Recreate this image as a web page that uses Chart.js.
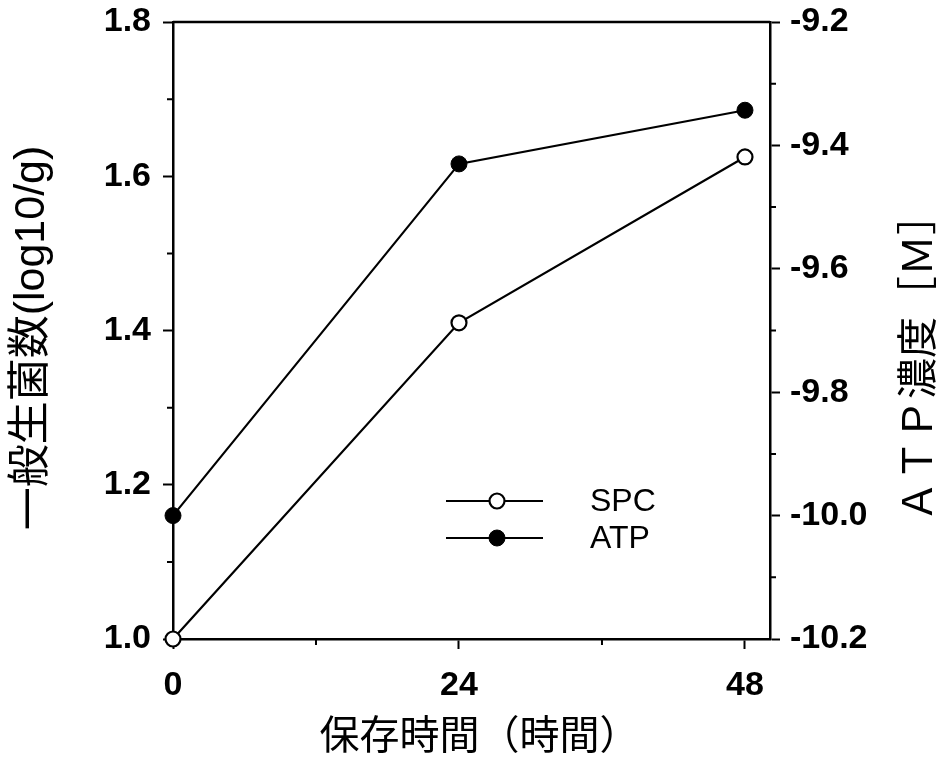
<!DOCTYPE html>
<html>
<head>
<meta charset="utf-8">
<script src="https://cdn.jsdelivr.net/npm/chart.js@4/dist/chart.umd.min.js"></script>
<style>
  html, body { margin: 0; padding: 0; background: #ffffff; }
  #wrap { width: 941px; height: 758px; }
</style>
</head>
<body>
<div id="wrap"><canvas id="c" width="941" height="758"></canvas></div>
<script>
// ---- data ----
const xHours = [0, 24, 48];
const spcValues = [1.0, 1.41, 1.625];          // 一般生菌数 (log10/g), left axis
const atpValues = [-10.0, -9.43, -9.343];      // ATP濃度 [M], right axis
const seriesLabels = ['SPC', 'ATP'];
const xTickValues = [0, 24, 48];
const xMinorTicks = [12, 36];
const leftTickValues = [1.0, 1.2, 1.4, 1.6, 1.8];
const leftMinorTicks = [1.1, 1.3, 1.5, 1.7];
const rightTickValues = [-10.2, -10.0, -9.8, -9.6, -9.4, -9.2];
const rightMinorTicks = [-10.1, -9.9, -9.7, -9.5, -9.3];
const xTitle = '保存時間（時間）';
const leftTitle = '一般生菌数(log10/g)';
const rightTitle = 'ＡＴＰ濃度［Ｍ］';

const LATIN = '"Liberation Sans", Arial, Helvetica, sans-serif';
const CJK = '"Liberation Sans", "Noto Sans CJK JP", sans-serif';
const tickFont = { family: LATIN, size: 34, weight: 'bold' };

const extraPlugin = {
  id: 'extras',
  afterDraw(chart) {
    const ctx = chart.ctx;
    const a = chart.chartArea;
    const sx = chart.scales.x, sl = chart.scales.y, sr = chart.scales.y2;
    ctx.save();
    ctx.strokeStyle = '#000';
    // top frame line
    ctx.lineWidth = 2.5;
    ctx.beginPath();
    ctx.moveTo(a.left, a.top);
    ctx.lineTo(a.right, a.top);
    ctx.stroke();
    // minor ticks
    ctx.lineWidth = 2;
    const minor = 6;
    ctx.beginPath();
    xMinorTicks.forEach(v => { const px = sx.getPixelForValue(v); ctx.moveTo(px, a.bottom); ctx.lineTo(px, a.bottom + minor); });
    leftMinorTicks.forEach(v => { const py = sl.getPixelForValue(v); ctx.moveTo(a.left, py); ctx.lineTo(a.left - minor, py); });
    rightMinorTicks.forEach(v => { const py = sr.getPixelForValue(v); ctx.moveTo(a.right, py); ctx.lineTo(a.right + minor, py); });
    ctx.stroke();

    // legend (inside plot)
    chart.data.datasets.forEach((ds, i) => {
      const y = 501 + i * 37;
      ctx.lineWidth = ds.borderWidth;
      ctx.strokeStyle = ds.borderColor;
      ctx.beginPath();
      ctx.moveTo(446, y); ctx.lineTo(543, y);
      ctx.stroke();
      ctx.beginPath();
      ctx.arc(497, y, ds.pointRadius, 0, Math.PI * 2);
      ctx.fillStyle = ds.pointBackgroundColor;
      ctx.fill();
      ctx.lineWidth = ds.pointBorderWidth;
      ctx.strokeStyle = ds.pointBorderColor;
      ctx.stroke();
      ctx.fillStyle = '#000';
      ctx.font = '32px ' + LATIN;
      ctx.textAlign = 'left';
      ctx.textBaseline = 'middle';
      ctx.fillText(ds.label, 590, y + 1);
    });

    // axis titles
    ctx.fillStyle = '#000';
    ctx.textAlign = 'center';
    ctx.textBaseline = 'middle';
    ctx.font = '40px ' + CJK;
    ctx.fillText(xTitle, (a.left + a.right) / 2 + 8, 738);

    ctx.save();
    ctx.translate(32, 338);
    ctx.rotate(-Math.PI / 2);
    ctx.font = '43px ' + CJK;
    ctx.fillText(leftTitle, 0, 0);
    ctx.restore();

    ctx.save();
    ctx.translate(916, 358);
    ctx.rotate(-Math.PI / 2);
    ctx.font = '41px "Noto Sans CJK JP", sans-serif';
    ctx.fillText(rightTitle, 0, 0);
    ctx.restore();

    ctx.restore();
  }
};

const axisCommon = {
  grid: { drawOnChartArea: false, tickLength: 10, tickWidth: 2, tickColor: '#000' },
  border: { color: '#000', width: 2.5 },
};

new Chart(document.getElementById('c'), {
  type: 'line',
  data: {
    datasets: [
      {
        label: seriesLabels[0],
        data: xHours.map((x, i) => ({ x: x, y: spcValues[i] })),
        yAxisID: 'y',
        borderColor: '#000', borderWidth: 2.2,
        pointRadius: 7.5, pointHoverRadius: 7.5,
        pointBackgroundColor: '#fff', pointBorderColor: '#000', pointBorderWidth: 2.2,
        tension: 0, clip: false,
      },
      {
        label: seriesLabels[1],
        data: xHours.map((x, i) => ({ x: x, y: atpValues[i] })),
        yAxisID: 'y2',
        borderColor: '#000', borderWidth: 2.2,
        pointRadius: 8, pointHoverRadius: 8,
        pointBackgroundColor: '#000', pointBorderColor: '#000', pointBorderWidth: 1,
        tension: 0, clip: false,
      },
    ],
  },
  options: {
    responsive: false,
    animation: false,
    devicePixelRatio: 1,
    layout: { padding: { top: 22, left: 0, right: 0, bottom: 0 } },
    plugins: { legend: { display: false }, tooltip: { enabled: false } },
    events: [],
    scales: {
      x: Object.assign({}, axisCommon, {
        type: 'linear', min: 0, max: 50.1,
        afterBuildTicks: s => { s.ticks = xTickValues.map(v => ({ value: v })); },
        afterFit: s => { s.height = 119; s.paddingLeft = 0; s.paddingRight = 0; },
        ticks: { font: tickFont, color: '#000', padding: 16, maxRotation: 0, autoSkip: false, callback: v => String(v) },
      }),
      y: Object.assign({}, axisCommon, {
        type: 'linear', position: 'left', min: 1.0, max: 1.8,
        afterBuildTicks: s => { s.ticks = leftTickValues.map(v => ({ value: v })); },
        afterFit: s => { s.width = 173; s.paddingTop = 0; s.paddingBottom = 0; },
        ticks: { font: tickFont, color: '#000', padding: 12, autoSkip: false, callback: v => v.toFixed(1) },
      }),
      y2: Object.assign({}, axisCommon, {
        type: 'linear', position: 'right', min: -10.2, max: -9.2,
        afterBuildTicks: s => { s.ticks = rightTickValues.map(v => ({ value: v })); },
        afterFit: s => { s.width = 171; s.paddingTop = 0; s.paddingBottom = 0; },
        ticks: { font: tickFont, color: '#000', padding: 10, autoSkip: false, callback: v => v.toFixed(1) },
      }),
    },
  },
  plugins: [extraPlugin],
});
</script>
</body>
</html>
